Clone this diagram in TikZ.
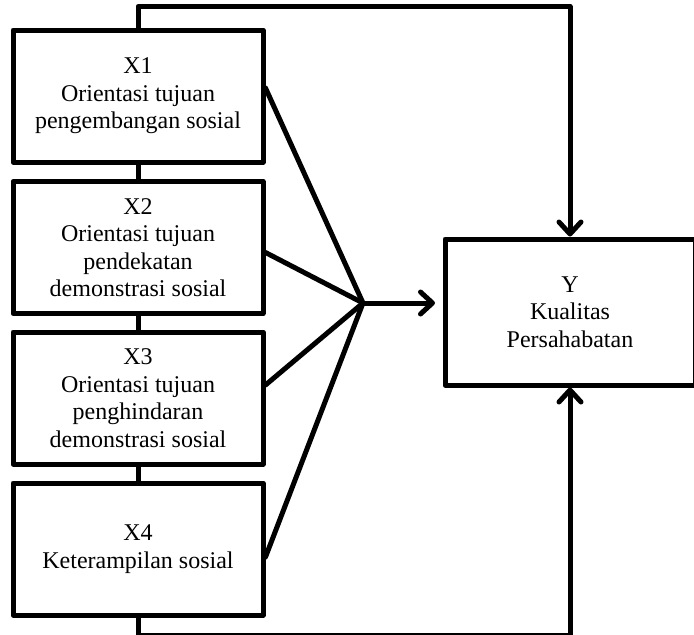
\documentclass[tikz,border=0pt]{standalone}
\usepackage{fontspec}
\setmainfont{Liberation Serif}
\usetikzlibrary{arrows.meta,positioning,calc}

\begin{document}
\begin{tikzpicture}[x=1pt,y=-1pt,
        box/.style={draw,line width=5pt,line join=round,align=center,font=\fontsize{24}{27.5}\selectfont,minimum width=250pt,minimum height=132pt,inner sep=0pt},
        link/.style={line width=5pt,line cap=round,line join=round},
        arrow/.style={link,-{Straight Barb[length=12pt,width=22pt,line cap=round,line join=round]}}
      ]
        \useasboundingbox (0,0) rectangle (694,635);
        \node[box] (x1) at (138,96) {X1\\Orientasi tujuan\\pengembangan sosial};
        \node[box] (x2) at (138,247.5) {X2\\Orientasi tujuan\\pendekatan\\demonstrasi sosial};
        \node[box] (x3) at (138,398) {X3\\Orientasi tujuan\\penghindaran\\demonstrasi sosial};
        \node[box] (x4) at (138,549) {X4\\Keterampilan sosial};
        \node[box,minimum height=146pt] (kualitas) at (570,312) {Y\\Kualitas\\Persahabatan};
        \coordinate (hub) at (363,303);
        \coordinate (tip) at (435,303);

        \draw[link] (x1.south) -- (x2.north);
        \draw[link] (x2.south) -- (x3.north);
        \draw[link] (x3.south) -- (x4.north);

        \draw[link] ([yshift=8pt]x1.east) -- (hub);
        \draw[link] ([yshift=-5pt]x2.east) -- (hub);
        \draw[link] ([yshift=13pt]x3.east) -- (hub);
        \draw[link] ([yshift=-8pt]x4.east) -- (hub);
        \draw[arrow] (hub) -- (tip);

        \draw[arrow] (x1.north) -- ++(0,-21) -| (kualitas.north);
        \draw[arrow] (x4.south) -- ++(0,18) -| (kualitas.south);
      \end{tikzpicture}
\end{document}
